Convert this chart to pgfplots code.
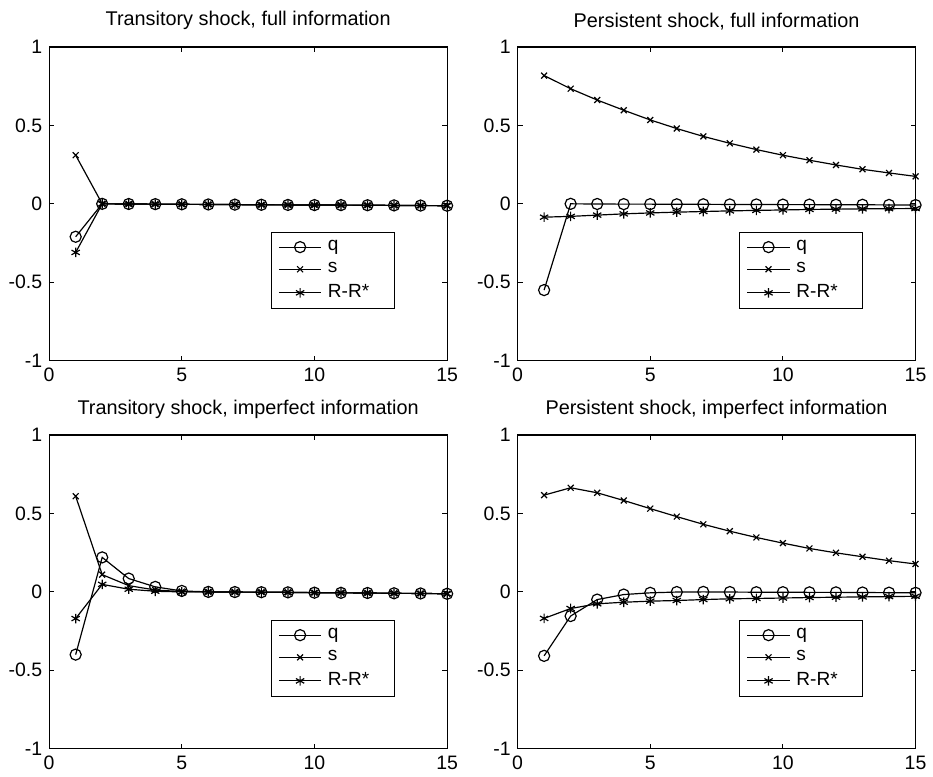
\documentclass[border=0pt]{standalone}
\usepackage{fontspec}
\setmainfont{Liberation Sans}
\usepackage{pgfplots}
\usepackage{pgfplotstable}
\pgfplotsset{compat=1.18}
\usepgfplotslibrary{groupplots}

% impulse responses (t, q, s, R-R*)
\pgfplotstableread{
t q s r
1 -0.21 0.31 -0.31
2 0.000 0.000 0.000
3 -0.001 -0.001 -0.001
4 -0.002 -0.002 -0.002
5 -0.003 -0.003 -0.003
6 -0.004 -0.004 -0.004
7 -0.005 -0.005 -0.005
8 -0.006 -0.006 -0.006
9 -0.007 -0.007 -0.007
10 -0.008 -0.008 -0.008
11 -0.008 -0.008 -0.008
12 -0.009 -0.009 -0.009
13 -0.010 -0.010 -0.010
14 -0.011 -0.011 -0.011
15 -0.012 -0.012 -0.012
}\transfull

\pgfplotstableread{
t q s r
1 -0.55 0.818 -0.085
2 0.000 0.734 -0.080
3 -0.001 0.662 -0.072
4 -0.002 0.597 -0.064
5 -0.002 0.535 -0.058
6 -0.003 0.480 -0.053
7 -0.003 0.430 -0.049
8 -0.004 0.386 -0.045
9 -0.004 0.346 -0.042
10 -0.005 0.310 -0.039
11 -0.005 0.278 -0.036
12 -0.006 0.248 -0.034
13 -0.006 0.220 -0.032
14 -0.007 0.197 -0.031
15 -0.008 0.175 -0.030
}\persfull

\pgfplotstableread{
t q s r
1 -0.40 0.61 -0.17
2 0.220 0.110 0.048
3 0.085 0.040 0.017
4 0.032 0.012 0.004
5 0.006 0.002 0.000
6 0.000 0.000 0.000
7 -0.001 -0.001 -0.001
8 -0.002 -0.002 -0.002
9 -0.003 -0.003 -0.003
10 -0.005 -0.005 -0.005
11 -0.006 -0.006 -0.006
12 -0.007 -0.007 -0.007
13 -0.009 -0.009 -0.009
14 -0.010 -0.010 -0.010
15 -0.012 -0.012 -0.012
}\transimp

\pgfplotstableread{
t q s r
1 -0.408 0.617 -0.169
2 -0.154 0.664 -0.106
3 -0.049 0.632 -0.076
4 -0.017 0.583 -0.066
5 -0.006 0.531 -0.059
6 -0.001 0.480 -0.055
7 0.000 0.431 -0.049
8 -0.001 0.387 -0.044
9 -0.002 0.347 -0.042
10 -0.002 0.311 -0.039
11 -0.003 0.277 -0.036
12 -0.003 0.249 -0.034
13 -0.004 0.224 -0.032
14 -0.005 0.199 -0.030
15 -0.006 0.178 -0.028
}\persimp

\pgfplotsset{
  irf/.style={
    scale only axis, width=200.5pt, height=158pt,
    xmin=0, xmax=15, ymin=-1, ymax=1,
    xtick={0,5,10,15}, xticklabels={0,5,10,15},
    ytick={-1,-0.5,0,0.5,1}, yticklabels={-1,-0.5,0,0.5,1},
    tick align=inside, major tick length=2.5pt,
    tick style={black, line width=0.5pt},
    axis line style={line width=0.6pt},
    tick label style={font=\fontsize{9.8}{11.5}\selectfont},
    title style={font=\fontsize{10}{12}\selectfont, yshift=-1pt},
    legend style={at={(0.868,0.41)}, anchor=north east,
      font=\fontsize{9.6}{11.5}\selectfont, draw=black, line width=0.5pt,
      inner xsep=3.5pt, inner ysep=2pt, row sep=0.5pt, column sep=1pt,
      nodes={inner sep=2pt}},
    legend cell align=left,
    % sample line with the marker in its middle
    legend image code/.code={
      \draw[mark=none] (0pt,0pt) -- (21.5pt,0pt);
      \draw plot coordinates {(10.75pt,0pt)};},
  },
  qline/.style={black, line width=0.6pt, mark=o, mark size=2.8pt},
  sline/.style={black, line width=0.6pt, mark=x, mark size=2.1pt},
  rline/.style={black, line width=0.6pt, mark=asterisk, mark size=2.4pt},
}

\begin{document}
\begin{tikzpicture}
\begin{groupplot}[
  group style={group size=2 by 2, horizontal sep=35.5pt, vertical sep=37.5pt},
  irf,
]
\nextgroupplot[title={Transitory shock, full information}]
\addplot[qline] table[x=t, y=q] {\transfull};
\addplot[sline] table[x=t, y=s] {\transfull};
\addplot[rline] table[x=t, y=r] {\transfull};
\legend{q, s, R-R*\hspace*{7pt}}

\nextgroupplot[title={Persistent shock, full information}]
\addplot[qline] table[x=t, y=q] {\persfull};
\addplot[sline] table[x=t, y=s] {\persfull};
\addplot[rline] table[x=t, y=r] {\persfull};
\legend{q, s, R-R*\hspace*{7pt}}

\nextgroupplot[title={Transitory shock, imperfect information}]
\addplot[qline] table[x=t, y=q] {\transimp};
\addplot[sline] table[x=t, y=s] {\transimp};
\addplot[rline] table[x=t, y=r] {\transimp};
\legend{q, s, R-R*\hspace*{7pt}}

\nextgroupplot[title={Persistent shock, imperfect information}]
\addplot[qline] table[x=t, y=q] {\persimp};
\addplot[sline] table[x=t, y=s] {\persimp};
\addplot[rline] table[x=t, y=r] {\persimp};
\legend{q, s, R-R*\hspace*{7pt}}
\end{groupplot}
% a little white margin on the left and at the top, as in the original
\path ([xshift=-1pt]current bounding box.west) ([yshift=2.5pt]current bounding box.north);
\end{tikzpicture}
\end{document}
